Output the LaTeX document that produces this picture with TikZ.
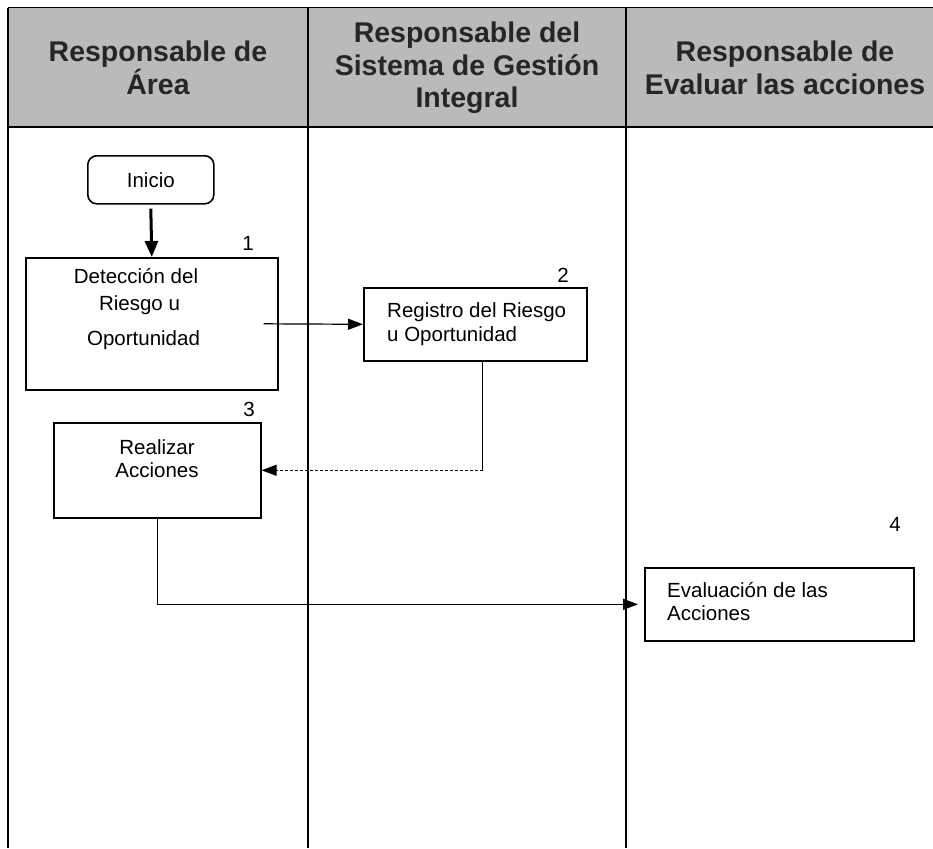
\documentclass[tikz,border=0pt]{standalone}
\usepackage{fontspec}
\setmainfont{Liberation Sans}
\usetikzlibrary{arrows.meta}
\definecolor{hdrgray}{RGB}{186,186,186}
\begin{document}
\begin{tikzpicture}[x=1pt,y=-1pt,
  hdr/.style={font=\fontsize{28.5}{32.5}\selectfont\bfseries, align=center, text=black!85, inner sep=0pt},
  procbox/.style={draw, line width=1.6pt, inner sep=0pt, anchor=north west},
  txt/.style={font=\fontsize{20.5}{24}\selectfont, inner sep=0pt, anchor=base},
  txtl/.style={font=\fontsize{20.5}{24}\selectfont, inner sep=0pt, anchor=base west},
  num/.style={font=\fontsize{20.5}{24}\selectfont, inner sep=0pt, anchor=base},
  conn/.style={line width=1.2pt},
  tip/.style={-{Triangle[length=15pt,width=11pt]}}
]
\useasboundingbox (0,0) rectangle (933,848);
% header band
\fill[hdrgray] (8,8) rectangle (945,127);
\draw[line width=1pt] (8,8) -- (945,8);
\draw[line width=2pt] (8,127) -- (945,127);
% lane borders
\draw[line width=2.6pt] (8,8) -- (8,848);
\draw[line width=2pt] (308,8) -- (308,848);
\draw[line width=2pt] (626,8) -- (626,848);
% header texts
\node[hdr] (h1) at (158,68) {Responsable de\\Área};
\node[hdr] (h2) at (467,68) {Responsable del\\Sistema de Gestión\\Integral};
\node[hdr] (h3) at (785,68) {Responsable de\\Evaluar las acciones};
% boxes
\node[procbox, rounded corners=9pt, minimum width=126pt, minimum height=48pt,
      font=\fontsize{20.5}{24}\selectfont] (ini) at (87,155) {Inicio};
\node[procbox, minimum width=252pt, minimum height=132pt] (b1) at (25,257) {};
\node[procbox, minimum width=223pt, minimum height=73pt] (b2) at (363,287) {};
\node[procbox, minimum width=207pt, minimum height=95pt] (b3) at (53,422) {};
\node[procbox, minimum width=269pt, minimum height=73pt] (b4) at (644,567) {};
% box texts
\node[txt] (t1a) at (136,283) {Detección del};
\node[txt] (t1b) at (139.5,310) {Riesgo u};
\node[txt] (t1c) at (143.5,345) {Oportunidad};
\node[txtl] (t2a) at (387,317) {Registro del Riesgo};
\node[txtl] (t2b) at (387,341) {u Oportunidad};
\node[txt] (t3a) at (157,454) {Realizar};
\node[txt] (t3b) at (157,477) {Acciones};
\node[txtl] (t4a) at (667,597) {Evaluación de las};
\node[txtl] (t4b) at (667,620) {Acciones};
% step numbers
\node[num] (n1) at (248,250) {1};
\node[num] (n2) at (563,282) {2};
\node[num] (n3) at (249,416) {3};
\node[num] (n4) at (895,531) {4};
% connectors
\draw[line width=3pt, -{Triangle[length=16pt,width=13pt]}] ([yshift=-4pt]ini.south) -- (b1.north);
\draw[conn, tip] ([xshift=-15pt]b1.east) -- (b2.west);
\coordinate (b2s) at ([xshift=7.5pt]b2.south);
\coordinate (c23) at (b2s |- b3.east);
\draw[conn] (b2s) -- (c23);
\draw[conn, densely dashed, tip] (c23) -- (b3.east);
\draw[conn, tip, shorten >=6pt] (b3.south) |- (b4.west);
\end{tikzpicture}
\end{document}
